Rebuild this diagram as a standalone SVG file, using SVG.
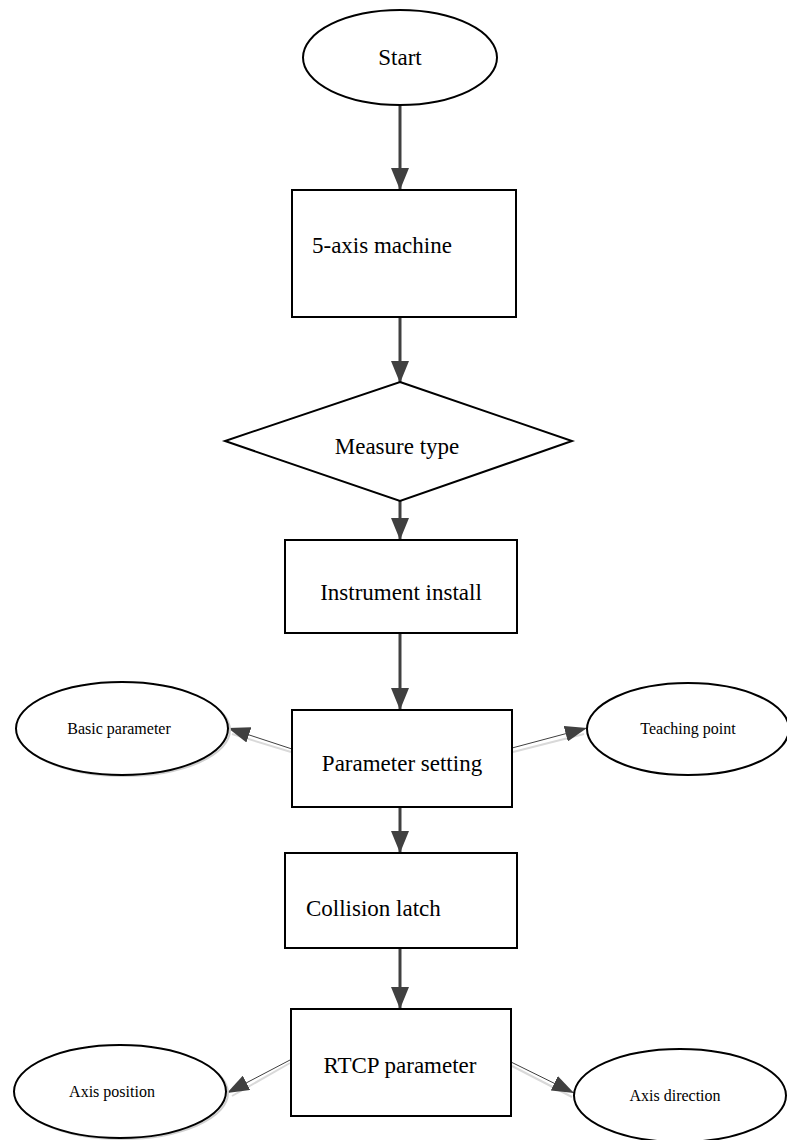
<svg xmlns="http://www.w3.org/2000/svg" width="787" height="1140" viewBox="0 0 787 1140">
<style>
.shape{fill:#fff;stroke:#000;stroke-width:2}
.big{font-family:"Liberation Serif","Times New Roman",serif;font-size:23px;fill:#000}
.small{font-family:"Liberation Serif","Times New Roman",serif;font-size:16px;fill:#000}
.main{stroke:#404040;stroke-width:3;fill:none}
.side{stroke:#404040;stroke-width:1;fill:none}
.shadow{stroke:#d9d9d9;stroke-width:2;fill:none}
.eshadow{fill:none;stroke:#d0d0d0;stroke-width:2}
</style>
<defs>
<marker id="ah" markerUnits="userSpaceOnUse" markerWidth="22" markerHeight="18" refX="22" refY="9" orient="auto">
<path d="M0,0 L22,9 L0,18 z" fill="#404040"/>
</marker>
<marker id="as" markerUnits="userSpaceOnUse" markerWidth="22" markerHeight="16" refX="22" refY="8" orient="auto">
<path d="M0,0 L22,8 L0,16 z" fill="#404040"/>
</marker>
</defs>
<rect width="787" height="1140" fill="#fff"/>
<g id="connectors">
<line class="main" x1="400" y1="105" x2="400" y2="190" marker-end="url(#ah)"/>
<line class="main" x1="400" y1="317" x2="400" y2="383" marker-end="url(#ah)"/>
<line class="main" x1="400" y1="501" x2="400" y2="540" marker-end="url(#ah)"/>
<line class="main" x1="400" y1="633" x2="400" y2="710" marker-end="url(#ah)"/>
<line class="main" x1="400" y1="807" x2="400" y2="853" marker-end="url(#ah)"/>
<line class="main" x1="400" y1="948" x2="400" y2="1009" marker-end="url(#ah)"/>
<line class="shadow" x1="291" y1="752" x2="232" y2="734"/>
<line class="shadow" x1="513" y1="752" x2="584" y2="734"/>
<line class="shadow" x1="290" y1="1063" x2="232" y2="1096"/>
<line class="shadow" x1="512" y1="1066" x2="572" y2="1097"/>
<line class="side" x1="292" y1="749" x2="228" y2="728" marker-end="url(#as)"/>
<line class="side" x1="512" y1="748" x2="587" y2="728" marker-end="url(#as)"/>
<line class="side" x1="290" y1="1060" x2="227" y2="1093" marker-end="url(#as)"/>
<line class="side" x1="511" y1="1062" x2="574" y2="1093" marker-end="url(#as)"/>
</g>
<g id="start">
<ellipse class="shape" cx="400" cy="57.5" rx="97" ry="47.5"/>
<text class="big" x="400" y="65" text-anchor="middle">Start</text>
</g>
<g id="machine">
<rect class="shape" x="292" y="190" width="224" height="127"/>
<text class="big" x="312" y="253">5-axis machine</text>
</g>
<g id="measure">
<polygon class="shape" points="400,382 572,441 400,501 225,441"/>
<text class="big" x="397" y="454" text-anchor="middle">Measure type</text>
</g>
<g id="instrument">
<rect class="shape" x="285" y="540" width="232" height="93"/>
<text class="big" x="401" y="600" text-anchor="middle">Instrument install</text>
</g>
<g id="parameter">
<rect class="shape" x="292" y="710" width="220" height="97"/>
<text class="big" x="402" y="771" text-anchor="middle">Parameter setting</text>
</g>
<g id="basic">
<ellipse class="eshadow" cx="124" cy="730" rx="106" ry="46"/>
<ellipse class="shape" cx="122" cy="728.5" rx="106" ry="46.5"/>
<text class="small" x="119" y="734" text-anchor="middle">Basic parameter</text>
</g>
<g id="teaching">
<ellipse class="shape" cx="688" cy="729" rx="101" ry="46"/>
<text class="small" x="688" y="734" text-anchor="middle">Teaching point</text>
</g>
<g id="collision">
<rect class="shape" x="285" y="853" width="232" height="95"/>
<text class="big" x="306" y="916">Collision latch</text>
</g>
<g id="rtcp">
<rect class="shape" x="291" y="1009" width="220" height="107"/>
<text class="big" x="400" y="1073" text-anchor="middle">RTCP parameter</text>
</g>
<g id="axispos">
<ellipse class="eshadow" cx="122" cy="1093" rx="106" ry="46"/>
<ellipse class="shape" cx="120" cy="1091.5" rx="106" ry="46.5"/>
<text class="small" x="112" y="1097" text-anchor="middle">Axis position</text>
</g>
<g id="axisdir">
<ellipse class="shape" cx="680" cy="1095.5" rx="106" ry="46.5"/>
<text class="small" x="675" y="1101" text-anchor="middle">Axis direction</text>
</g>
</svg>
